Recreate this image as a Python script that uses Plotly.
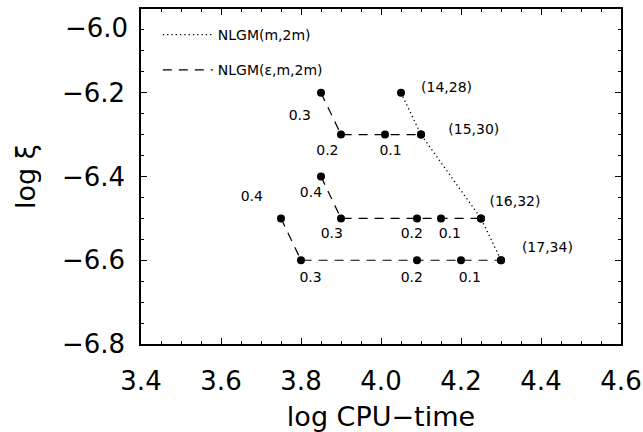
import plotly.graph_objects as go

# ---- data ----
dotted_x = [4.05, 4.10, 4.25, 4.30]
dotted_y = [-6.2, -6.3, -6.5, -6.6]
dotted_labels = ["(14,28)", "(15,30)", "(16,32)", "(17,34)"]
dotted_label_x = [4.164, 4.232, 4.335, 4.416]
dotted_label_y = [-6.191, -6.289, -6.461, -6.572]

dashA_x = [3.85, 3.90, 4.01, 4.10]
dashA_y = [-6.2, -6.3, -6.3, -6.3]
dashB_x = [3.85, 3.90, 4.09, 4.15, 4.25]
dashB_y = [-6.4, -6.5, -6.5, -6.5, -6.5]
dashC_x = [3.75, 3.80, 4.09, 4.20, 4.30]
dashC_y = [-6.5, -6.6, -6.6, -6.6, -6.6]

eps_labels = ["0.3", "0.2", "0.1",
              "0.4", "0.3", "0.2", "0.1",
              "0.4", "0.3", "0.2", "0.1"]
eps_label_x = [3.797, 3.866, 4.024,
               3.825, 3.877, 4.077, 4.172,
               3.677, 3.824, 4.077, 4.222]
eps_label_y = [-6.257, -6.340, -6.340,
               -6.440, -6.538, -6.538, -6.538,
               -6.449, -6.644, -6.644, -6.644]

x_ticks = [3.4, 3.6, 3.8, 4.0, 4.2, 4.4, 4.6]
x_ticktext = ["3.4", "3.6", "3.8", "4.0", "4.2", "4.4", "4.6"]
y_ticks = [-6.8, -6.6, -6.4, -6.2, -6.0]
y_ticktext = ["\u22126.8", "\u22126.6", "\u22126.4", "\u22126.2", "\u22126.0"]

FONT = "DejaVu Sans, Liberation Sans, Arial, sans-serif"
TICKSIZE = 26

fig = go.Figure()

# dotted line NLGM(m,2m)
fig.add_trace(go.Scatter(
    x=dotted_x, y=dotted_y, mode="lines", name="NLGM(m,2m)",
    line=dict(color="black", width=1.3, dash="1.3px,3px"),
    legendgroup="a", hoverinfo="skip"))

# dashed lines NLGM(eps,m,2m)
dash_x = dashA_x + [None] + dashB_x + [None] + dashC_x
dash_y = dashA_y + [None] + dashB_y + [None] + dashC_y
fig.add_trace(go.Scatter(
    x=dash_x, y=dash_y, mode="lines", name="NLGM(\u03b5,m,2m)",
    line=dict(color="black", width=1.2, dash="9px,7px"),
    legendgroup="b", hoverinfo="skip"))

# markers
fig.add_trace(go.Scatter(
    x=dotted_x + dashA_x + dashB_x + dashC_x,
    y=dotted_y + dashA_y + dashB_y + dashC_y,
    mode="markers", showlegend=False, hoverinfo="skip",
    marker=dict(color="black", size=8, line=dict(width=0))))

# point labels
fig.add_trace(go.Scatter(
    x=dotted_label_x + eps_label_x,
    y=dotted_label_y + eps_label_y,
    mode="text", text=dotted_labels + eps_labels, showlegend=False,
    textposition="middle center", hoverinfo="skip",
    textfont=dict(family=FONT, size=14, color="black")))

axis_common = dict(
    showline=True, linecolor="black", linewidth=1.5, mirror="ticks",
    ticks="inside", ticklen=6, tickwidth=1.2, tickcolor="black",
    showgrid=False, zeroline=False, automargin=False,
    tickfont=dict(family=FONT, size=TICKSIZE, color="black"),
    minor=dict(ticks="inside", ticklen=3, tickwidth=1, tickcolor="black",
               dtick=0.05, showgrid=False),
)

# top y label drawn separately so it is not clipped at the page edge
y_ticktext_axis = y_ticktext[:-1] + [""]

fig.update_xaxes(
    range=[3.4, 4.6], tickvals=x_ticks, ticktext=x_ticktext,
    ticklabelstandoff=13,
    title=dict(text="log CPU\u2212time", font=dict(family=FONT, size=27, color="black"),
               standoff=17),
    **axis_common)
fig.update_yaxes(
    range=[-6.8, -6.0], tickvals=y_ticks, ticktext=y_ticktext_axis,
    ticklabelstandoff=9,
    title=dict(text="log \u03be", font=dict(family=FONT, size=27, color="black"),
               standoff=18),
    **axis_common)

fig.add_annotation(
    x=0, xref="paper", y=y_ticks[-1], yref="y",
    text=y_ticktext[-1], showarrow=False,
    xanchor="right", yanchor="top", xshift=-11, yshift=-2,
    font=dict(family=FONT, size=TICKSIZE, color="black"))

fig.update_layout(
    width=643, height=432,
    margin=dict(l=141, r=22, t=9, b=88, autoexpand=False),
    paper_bgcolor="white", plot_bgcolor="white",
    showlegend=True,
    legend=dict(x=0.035, y=0.97, xanchor="left", yanchor="top",
                bgcolor="rgba(0,0,0,0)", borderwidth=0,
                font=dict(family=FONT, size=14, color="black"),
                traceorder="grouped", tracegroupgap=14,
                itemwidth=50),
)

fig.write_html("out.html",
               config={"displayModeBar": False},
               post_script="document.body.style.margin='0';")
